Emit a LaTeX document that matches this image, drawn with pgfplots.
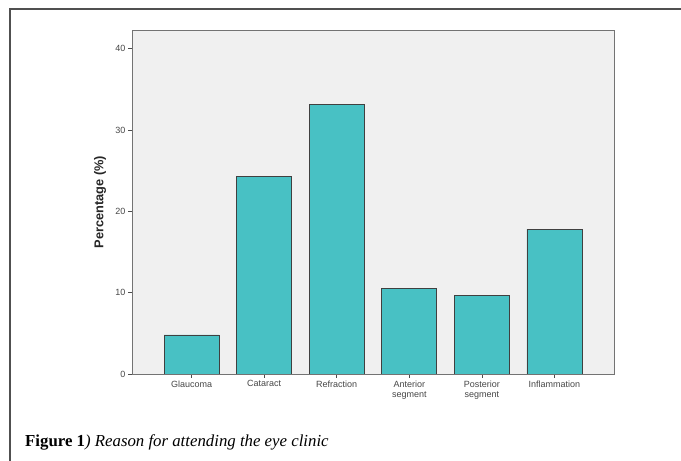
\documentclass[border=0pt]{standalone}
\usepackage{pgfplots}
\pgfplotsset{compat=1.18}
\usepackage{fontspec}
\setmainfont{Liberation Serif}
\newfontfamily\arialfont{Liberation Sans}
\definecolor{barfill}{RGB}{72,193,196}
\definecolor{plotbg}{RGB}{240,240,240}
\definecolor{framegray}{RGB}{80,80,80}
\definecolor{ticktext}{RGB}{70,70,70}
\begin{document}
\begin{tikzpicture}[x=1pt,y=1pt]
\useasboundingbox (0,0) rectangle (681,461);
\draw[framegray, line width=1.2pt] (10,0) -- (10,452) -- (681,452);
\begin{axis}[
  at={(132pt,87pt)}, anchor=south west,
  scale only axis, width=482pt, height=344pt,
  xmin=-0.82, xmax=5.82, ymin=0, ymax=42.3,
  axis background/.style={fill=plotbg},
  axis line style={draw=black!55, line width=0.9pt},
  ybar, bar width=55pt,
  xtick=data,
  xticklabels={Glaucoma,Cataract,Refraction,{Anterior\\segment},{Posterior\\segment},Inflammation},
  ytick={0,10,20,30,40},
  tick pos=left, tick align=outside,
  major tick length=4pt,
  tick style={black!70, line width=0.7pt},
  /pgf/number format/assume math mode=true,
  ticklabel style={font=\arialfont\fontsize{9}{10}\selectfont, text=ticktext},
  xticklabel style={align=center, yshift=1pt},
  yticklabel style={xshift=1pt},
  ylabel={Percentage (\%)},
  ylabel style={at={(axis description cs:-0.066,0.5)}, anchor=center, font=\arialfont\bfseries\fontsize{12.8}{14}\selectfont, text=black!85},
]
\addplot[fill=barfill, draw=black!75, line width=0.8pt] coordinates {
  (0,4.8) (1,24.3) (2,33.2) (3,10.5) (4,9.7) (5,17.8)
};
\end{axis}
\node[anchor=base west, inner sep=0pt, font=\fontsize{16.8}{20}\selectfont] at (25,14) {\textbf{Figure 1}\textit{) Reason for attending the eye clinic}};
\end{tikzpicture}
\end{document}
